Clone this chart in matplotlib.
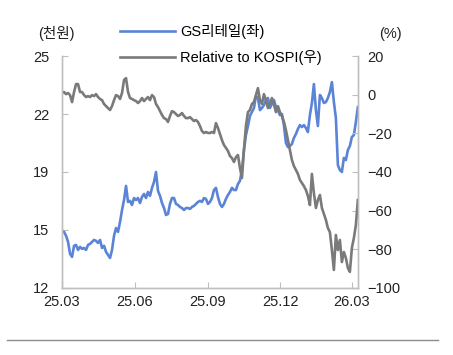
import numpy as np
import pandas as pd
import matplotlib
matplotlib.use("Agg")
import matplotlib.pyplot as plt
import matplotlib.dates as mdates
from matplotlib.lines import Line2D

plt.rcParams["font.family"] = ["Liberation Sans", "Noto Sans CJK KR", "DejaVu Sans"]
plt.rcParams["axes.unicode_minus"] = False

START = "2025-03-01"
END   = "2026-03-09"

# GS리테일 주가 (천원), 좌축
gs_price = [
    15.20, 15.14, 14.92, 14.58, 13.91, 13.74, 14.36, 14.41, 14.13, 14.30,
    14.19, 14.24, 14.13, 14.41, 14.47, 14.58, 14.69, 14.64, 14.52, 14.69,
    14.24, 14.36, 14.02, 13.85, 13.68, 14.13, 14.92, 15.36, 15.14, 15.70,
    16.37, 16.93, 17.72, 16.82, 16.88, 16.65, 17.04, 16.93, 17.04, 16.76,
    17.10, 17.27, 17.04, 17.38, 17.16, 17.61, 17.94, 18.50, 17.44, 17.16,
    16.76, 16.48, 16.09, 16.15, 16.71, 17.04, 17.04, 16.71, 16.65, 16.54,
    16.48, 16.37, 16.48, 16.48, 16.43, 16.54, 16.60, 16.71, 16.82, 16.88,
    16.82, 17.04, 16.99, 16.71, 16.82, 17.04, 17.49, 17.61, 17.10, 16.71,
    16.54, 16.71, 16.99, 17.21, 17.38, 17.61, 17.49, 17.49, 17.83, 18.00,
    18.61, 19.73, 20.57, 21.08, 21.64, 21.86, 22.09, 22.76, 22.65, 21.97,
    22.09, 22.25, 22.54, 22.65, 22.09, 22.31, 22.54, 22.14, 21.97, 21.69,
    21.75, 21.13, 20.13, 19.90, 19.96, 20.07, 20.41, 20.63, 20.91, 21.13,
    21.02, 21.13, 20.97, 20.74, 21.69, 22.37, 23.43, 21.97, 21.08, 22.82,
    22.65, 22.37, 22.42, 22.65, 22.98, 23.54, 22.42, 21.53, 18.89, 18.61,
    18.50, 19.29, 19.17, 19.73, 19.96, 20.46, 20.57, 21.30, 22.14,
]

# KOSPI 대비 상대수익률 (%), 우축
rel_kospi = [
    0.9, 1.4, 0.3, 0.9, -0.2, -3.8, 1.4, 5.5, 5.5, 1.4,
    1.4, -0.2, -1.2, -0.7, -1.2, -0.2, -0.7, 0.3, -1.2, -2.2,
    -2.8, -4.8, -5.9, -6.9, -7.9, -5.9, -2.8, -0.2, -0.7, -2.2,
    0.9, 7.6, 8.6, 1.4, -1.7, -2.2, -2.8, -3.3, -4.3, -3.3,
    -1.7, -3.3, -2.2, -1.2, -2.8, -0.2, -1.2, -4.8, -6.4, -8.5,
    -10.5, -12.1, -12.6, -14.1, -11.0, -8.5, -9.0, -10.0, -11.0, -10.5,
    -9.5, -11.0, -12.1, -12.1, -11.6, -12.6, -13.6, -13.1, -14.1, -16.2,
    -18.8, -19.8, -19.3, -19.8, -19.8, -19.3, -19.8, -14.7, -17.2, -20.4,
    -23.5, -26.0, -27.6, -29.1, -31.7, -32.8, -34.8, -32.3, -31.2, -37.9,
    -43.1, -28.6, -16.2, -9.0, -7.9, -4.8, -3.8, -0.2, 3.4, -2.8,
    -4.8, 0.3, -2.8, -6.9, -4.8, -1.7, -4.8, -9.0, -5.9, -9.0,
    -11.0, -14.1, -18.3, -23.5, -28.6, -33.8, -36.9, -39.0, -41.0, -44.1,
    -45.7, -47.3, -49.3, -52.4, -57.1, -41.0, -51.0, -58.6, -54.5, -51.9,
    -58.6, -61.7, -64.8, -69.0, -71.1, -80.4, -90.7, -72.6, -80.4, -75.2,
    -86.6, -81.4, -84.5, -89.7, -91.7, -79.3, -74.2, -67.4, -54.5,
]

tick_dates  = ["2025-03-01", "2025-06-01", "2025-09-01", "2025-12-01", "2026-03-01"]
tick_labels = ["25.03", "25.06", "25.09", "25.12", "26.03"]
left_ticks  = [12, 15.25, 18.5, 21.75, 25]
left_labels = ["12", "15", "19", "22", "25"]
right_ticks = [-100, -80, -60, -40, -20, 0, 20]

BLUE = "#5b84d6"
GRAY = "#7a7a7a"
SPINE = "#bfbfbf"

dates = pd.date_range(START, END, periods=len(gs_price))

fig = plt.figure(figsize=(4.53, 3.55), dpi=100)
ax = fig.add_axes([0.137, 0.189, 0.653, 0.653])
ax2 = ax.twinx()

l1, = ax.plot(dates, gs_price, color=BLUE, lw=1.9, label="GS리테일(좌)")
l2, = ax2.plot(dates, rel_kospi, color=GRAY, lw=1.9, label="Relative to KOSPI(우)")

ax.set_xlim(pd.Timestamp(START), pd.Timestamp(END))
ax.set_ylim(12, 25)
ax2.set_ylim(-100, 20)
ax.set_yticks(left_ticks)
ax.set_yticklabels(left_labels)
ax2.set_yticks(right_ticks)
ax2.set_yticklabels([f"\u2212{abs(v)}" if v < 0 else str(v) for v in right_ticks])
ax.set_xticks(pd.to_datetime(tick_dates))
ax.set_xticklabels(tick_labels)

for a in (ax, ax2):
    a.spines["top"].set_visible(False)
    for s in ("left", "right", "bottom"):
        a.spines[s].set_color(SPINE)
        a.spines[s].set_linewidth(1.0)
    a.tick_params(direction="in", length=4, width=0.8, color=SPINE,
                  labelsize=10.5, labelcolor="#222222", pad=7)
ax.tick_params(axis="y", pad=9)
ax.tick_params(axis="x", pad=5)

fig.text(0.124, 0.905, "(천원)", fontsize=10.5, ha="center", va="center", color="#222222")
fig.text(0.862, 0.905, "(%)", fontsize=10.5, ha="center", va="center", color="#222222")

fig.legend(handles=[l1, l2], loc="upper left", bbox_to_anchor=(0.265, 0.931),
           frameon=False, fontsize=10.5, handlelength=3.77, handletextpad=0.34,
           labelspacing=0.75, borderaxespad=0, borderpad=0)

fig.add_artist(Line2D([0.015, 0.967], [0.042, 0.042], color="#8c8c8c", lw=1.0))

plt.savefig("out.png", dpi=100)
